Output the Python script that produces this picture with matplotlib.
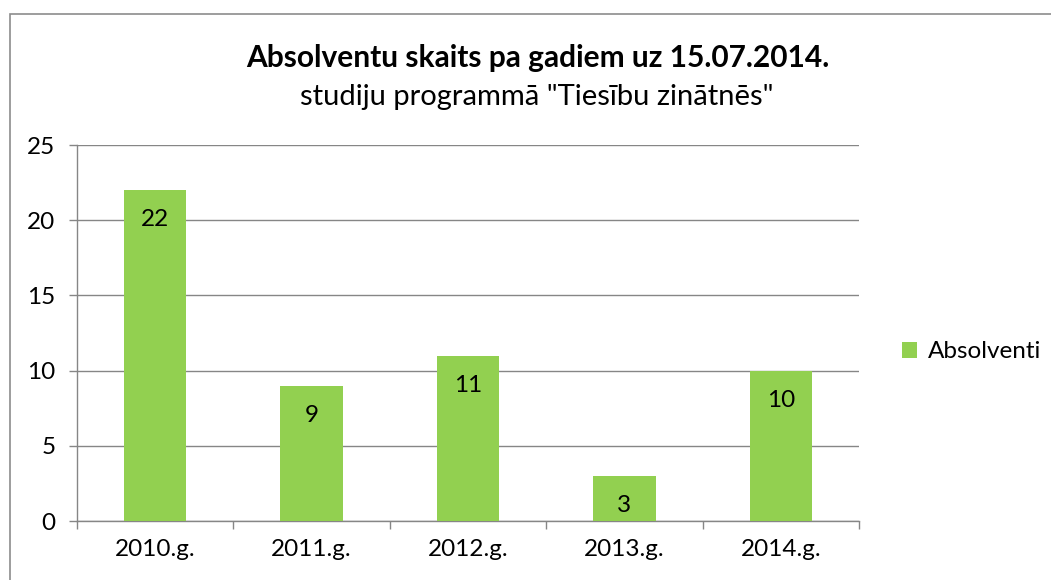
import matplotlib.pyplot as plt
from matplotlib.patches import Rectangle

plt.rcParams['font.family'] = ['Lato', 'DejaVu Sans']

# dati
gadi = ['2010.g.', '2011.g.', '2012.g.', '2013.g.', '2014.g.']
absolventi = [22, 9, 11, 3, 10]
y_ticks = [0, 5, 10, 15, 20, 25]

bar_color = '#92D050'
grid_color = '#868686'

fig = plt.figure(figsize=(10.51, 5.8), dpi=100)

# rāmis ap diagrammu
fig.patches.append(Rectangle((10 / 1051, -0.1), 1.2, 1.1 - 14 / 580,
                             transform=fig.transFigure, fill=False,
                             edgecolor='#8c8c8c', linewidth=1.2))

ax = fig.add_axes([77 / 1051, 1 - 521 / 580, 782 / 1051, 376 / 580])

x = range(len(gadi))
bars = ax.bar(x, absolventi, width=0.4, color=bar_color, zorder=3)

for xi, v in zip(x, absolventi):
    ax.annotate(str(v), (xi, v), xytext=(0, -21.5), textcoords='offset points',
                ha='center', va='center', fontsize=17.5, color='black', zorder=4)

ax.set_xlim(-0.5, len(gadi) - 0.5)
ax.set_ylim(0, 25)
ax.set_yticks(y_ticks)
ax.set_xticks([i - 0.5 for i in range(len(gadi) + 1)], minor=False)
ax.set_xticklabels([''] * (len(gadi) + 1))
ax.set_xticks(list(x), minor=True)
ax.set_xticklabels(gadi, minor=True)

ax.tick_params(axis='x', which='major', length=5.5, color=grid_color, width=1)
ax.tick_params(axis='x', which='minor', length=0, labelsize=17.5, pad=13)
ax.tick_params(axis='y', length=5.5, color=grid_color, width=1, labelsize=17.5, pad=10)

ax.yaxis.grid(True, color=grid_color, linewidth=1, zorder=0)
for s in ['top', 'right']:
    ax.spines[s].set_visible(False)
for s in ['left', 'bottom']:
    ax.spines[s].set_color(grid_color)
    ax.spines[s].set_linewidth(1)

fig.text(538 / 1051, 1 - 58 / 580, 'Absolventu skaits pa gadiem uz 15.07.2014.',
         ha='center', va='center', fontsize=21.5, fontweight='bold')
fig.text(537 / 1051, 1 - 97 / 580, 'studiju programmā "Tiesību zinātnēs"',
         ha='center', va='center', fontsize=21)

leg = ax.legend([bars], ['Absolventi'], loc='center left',
                bbox_to_anchor=(880 / 1051, 1 - 352 / 580),
                bbox_transform=fig.transFigure, frameon=False, fontsize=17.5,
                handlelength=0.62, handleheight=0.62, handletextpad=0.45)

fig.savefig('out.png', dpi=100)
